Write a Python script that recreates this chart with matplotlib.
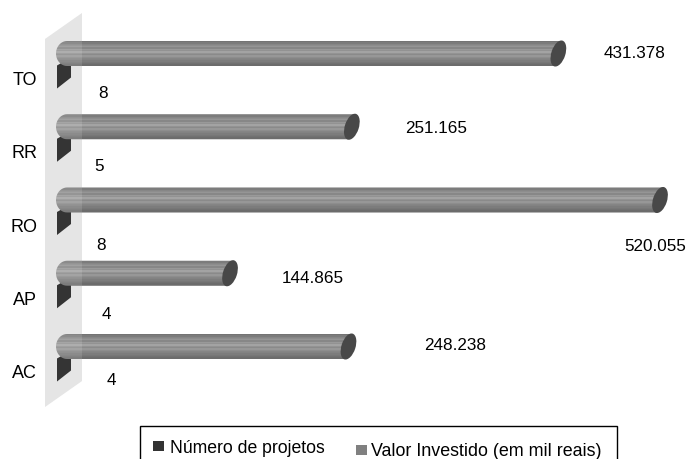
#!/usr/bin/env python3
import matplotlib
matplotlib.use('Agg')

import matplotlib.pyplot as plt
import numpy as np
from matplotlib.patches import Ellipse, Polygon, Rectangle
from matplotlib.transforms import Affine2D

plt.rcParams['font.family'] = ['Liberation Sans', 'DejaVu Sans']

W, H = 692, 460

categories = ['AC', 'AP', 'RO', 'RR', 'TO']
valor_investido = [248238, 144865, 520055, 251165, 431378]
valor_labels = ['248.238', '144.865', '520.055', '251.165', '431.378']
num_projetos = [4, 4, 8, 5, 8]
legend_names = ['Número de projetos', 'Valor Investido (em mil reais)']

# label positions were placed by hand in the original chart (pixels)
valor_label_xy = [(455, 346), (313, 279), (655, 247), (436, 129), (635, 54)]
num_label_xy = [(111, 381), (106, 315), (101, 246), (99, 167), (103, 94)]

BASE_PX = 64
PX_PER_VALUE = 596 / 520055
ROW0_PX = 347.5
ROW_STEP = 73.25
FONT = 12.3

bands = ['#747474', '#7c7c7c', '#868686', '#8d8d8d', '#959595', '#878787', '#999999',
         '#929292', '#a4a4a4', '#949494', '#8a8a8a', '#979797', '#8d8d8d', '#858585',
         '#828282', '#7c7c7c', '#777777', '#727272', '#6c6c6c', '#666666']

fig = plt.figure(figsize=(W / 100, H / 100), dpi=100)
ax = fig.add_axes([0, 0, 1, 1])
ax.axis('off')

xlim = (-BASE_PX / PX_PER_VALUE, (W - BASE_PX) / PX_PER_VALUE)
ylim = ((ROW0_PX - H) / ROW_STEP, ROW0_PX / ROW_STEP)
ax.set_xlim(xlim)
ax.set_ylim(ylim)

# everything that is decoration is drawn in image pixels, y going down
px = Affine2D().scale(1, -1).translate(0, H)

wall = [(45, 40), (82, 14), (82, 382), (45, 408)]
ax.add_patch(Polygon(wall, closed=True, fc='#e2e2e2', ec='none', transform=px, zorder=1))

grad = np.array([[int(c[1:3], 16) / 255] for c in bands])
arc = np.linspace(np.pi / 2, 3 * np.pi / 2, 24)

for i, cat in enumerate(categories):
    tip_x, row_y = ax.transData.transform((valor_investido[i], i))
    row_y = H - row_y
    x0 = ax.transData.transform((0, i))[0]
    x1 = ax.transData.transform((num_projetos[i], i))[0]

    # dark end of the "number of projects" bar
    ax.add_patch(Polygon([(x0 - 7, row_y + 12), (x1 + 7, row_y + 4),
                          (x1 + 7, row_y + 24), (x0 - 7, row_y + 35)],
                         closed=True, fc='#181818', ec='none', transform=px, zorder=2))

    # cylinder body, round on the left and cut slanted under the end cap
    outline = [(x0 + 3 + 11 * np.cos(a), row_y + 12.5 * np.sin(a)) for a in arc]
    outline = [(tip_x - 4, row_y + 12.5), (tip_x + 4, row_y - 12.5)] + outline[::-1]
    shape = Polygon(outline, closed=True, fc='none', ec='none', transform=px, zorder=3)
    ax.add_patch(shape)
    im = ax.imshow(grad, cmap='gray', vmin=0, vmax=1, aspect='auto', zorder=3,
                   extent=(-10 / PX_PER_VALUE, valor_investido[i] + 6 / PX_PER_VALUE,
                           i - 13 / ROW_STEP, i + 13 / ROW_STEP),
                   interpolation='nearest')
    im.set_clip_path(shape)
    ax.add_patch(Ellipse((tip_x, row_y), 14, 27, angle=18, fc='#484848', ec='none',
                         transform=px, zorder=4))

    ax.text(*valor_label_xy[i], valor_labels[i], transform=px, ha='center', va='center',
            fontsize=FONT, color='black', zorder=5)
    ax.text(*num_label_xy[i], str(num_projetos[i]), transform=px, ha='center', va='center',
            fontsize=FONT, color='black', zorder=5)
    ax.text(24.5, row_y + 26, cat, transform=px, ha='center', va='center',
            fontsize=FONT + 0.7, color='black', zorder=5)

ax.add_patch(Polygon(wall, closed=True, fc='white', ec='none', alpha=0.12, transform=px, zorder=3.5))

ax.set_xlim(xlim)
ax.set_ylim(ylim)

# legend box runs off the bottom of the picture
ax.add_patch(Rectangle((140, 427), 477, 40, fc='white', ec='black', lw=1, transform=px, zorder=6))
ax.add_patch(Rectangle((153, 442), 11, 10, fc='#333333', ec='none', transform=px, zorder=7))
ax.text(170, 449, legend_names[0], transform=px, ha='left', va='center', fontsize=12.7, zorder=7)
ax.add_patch(Rectangle((356, 446), 11, 10, fc='#808080', ec='none', transform=px, zorder=7))
ax.text(371, 452, legend_names[1], transform=px, ha='left', va='center', fontsize=12.85, zorder=7)

fig.savefig('out.png', dpi=100)
